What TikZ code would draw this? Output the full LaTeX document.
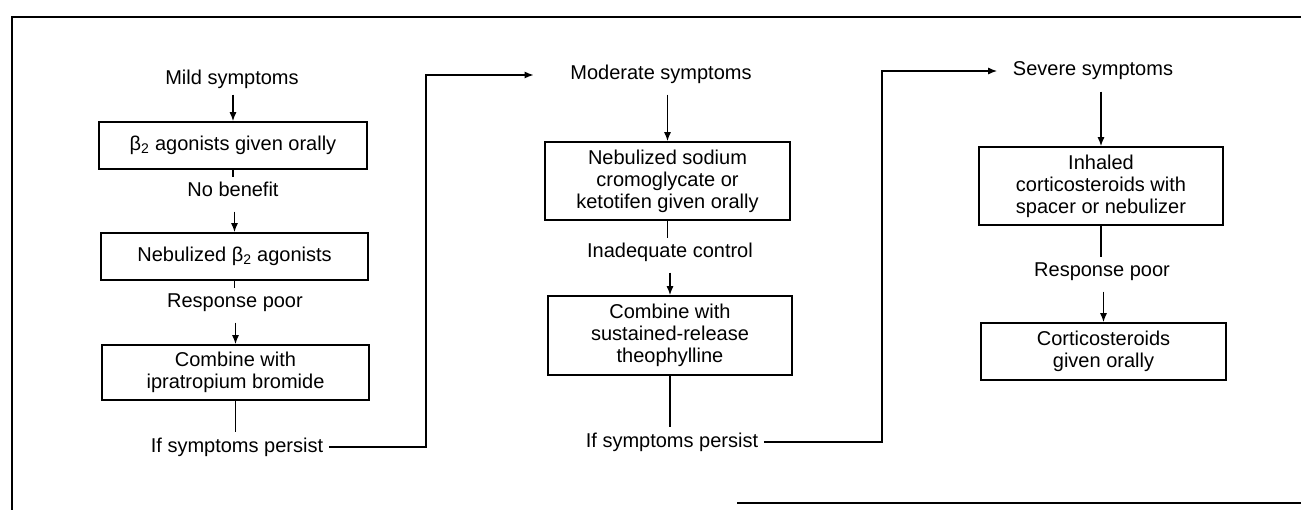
\documentclass[tikz,border=0pt]{standalone}
\usepackage{fontspec}
\setmainfont{Liberation Sans}
\usetikzlibrary{arrows.meta}

\begin{document}
\begin{tikzpicture}[x=1pt,y=-1pt,line width=1.5pt,
    font=\fontsize{20}{22}\selectfont,
    box/.style={draw,align=center,inner sep=2pt},
    lbl/.style={inner sep=5pt,text height=14pt,text depth=4pt},
    flow/.style={-{Latex[length=9pt,width=7pt]}}]
  \useasboundingbox (0,0) rectangle (1301,510);
  % frame
  \draw (1301,17) -- (12,17) -- (12,510);
  \draw (737,503) -- (1301,503);
  % mild
  \draw
    (232,80) node[lbl] (mild){Mild symptoms}
    (233,145.5) node[box,minimum width=268,minimum height=47] (b1){β\textsubscript{2} agonists given orally}
    (233,192) node[lbl] (nb){No benefit}
    (234.5,256.5) node[box,minimum width=267,minimum height=47] (b2){Nebulized β\textsubscript{2} agonists}
    (235,303) node[lbl] (rp1){Response poor}
    (235.5,372.5) node[box,minimum width=267,minimum height=55] (b3){Combine with\\ipratropium bromide}
    (237,447) node[lbl] (p1){If symptoms persist};
  % moderate
  \draw
    (661,75) node[lbl] (mod){Moderate symptoms}
    (667.5,181) node[box,minimum width=245,minimum height=78] (b4){Nebulized sodium\\cromoglycate or\\ketotifen given orally}
    (670,253) node[lbl] (ic){Inadequate control}
    (670,335.5) node[box,minimum width=244,minimum height=79] (b5){Combine with\\sustained-release\\theophylline}
    (672,442) node[lbl] (p2){If symptoms persist};
  % severe
  \draw
    (1093,71) node[lbl] (sev){Severe symptoms}
    (1101,186) node[box,minimum width=244,minimum height=78] (b6){Inhaled\\corticosteroids with\\spacer or nebulizer}
    (1102,272) node[lbl] (rp2){Response poor}
    (1103.5,351.5) node[box,minimum width=245,minimum height=57] (b7){Corticosteroids\\given orally};
  \coordinate (c1) at (426,447);
  \coordinate (c2) at (882,442);
  \begin{scope}[flow]
    \draw (mild.south -| b1) -- (b1);
    \draw[-] (b1) -- (nb.north -| b1);
    \draw[shorten <=5pt] (nb.south -| b2) -- (b2);
    \draw[-] (b2) -- (rp1.north -| b2);
    \draw[shorten <=5pt] (rp1.south -| b3) -- (b3);
    \draw[-] (b3) -- (p1.north -| b3);
    \draw[shorten >=31pt] (p1) -- (c1) |- (mod);
    \draw[shorten <=5pt] (mod.south -| b4) -- (b4);
    \draw[-] (b4) -- (ic.north -| b4);
    \draw[shorten <=5pt] (ic.south -| b5) -- (b5);
    \draw[-] (b5) -- (p2.north -| b5);
    \draw[shorten >=10pt] (p2) -- (c2) |- (sev);
    \draw[shorten <=6pt] (sev.south -| b6) -- (b6);
    \draw[-] (b6) -- (rp2.north -| b6);
    \draw[shorten <=5pt] (rp2.south -| b7) -- (b7);
  \end{scope}
\end{tikzpicture}
\end{document}
